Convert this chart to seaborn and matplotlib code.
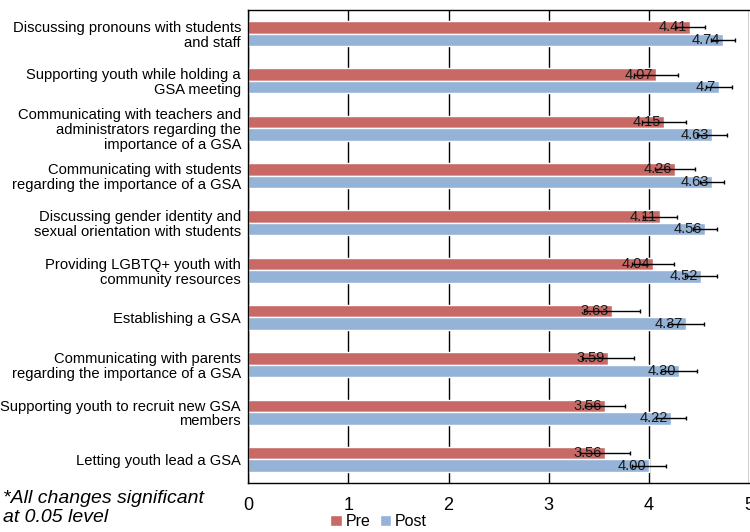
import matplotlib
matplotlib.use("Agg")
import matplotlib.pyplot as plt
import pandas as pd
import seaborn as sns

# 数据：前后测自我效能均值与误差
categories = [
    "Discussing pronouns with students\nand staff",
    "Supporting youth while holding a\nGSA meeting",
    "Communicating with teachers and\nadministrators regarding the\nimportance of a GSA",
    "Communicating with students\nregarding the importance of a GSA",
    "Discussing gender identity and\nsexual orientation with students",
    "Providing LGBTQ+ youth with\ncommunity resources",
    "Establishing a GSA",
    "Communicating with parents\nregarding the importance of a GSA",
    "Supporting youth to recruit new GSA\nmembers",
    "Letting youth lead a GSA",
]
pre = [4.41, 4.07, 4.15, 4.26, 4.11, 4.04, 3.63, 3.59, 3.56, 3.56]
post = [4.74, 4.70, 4.63, 4.63, 4.56, 4.52, 4.37, 4.30, 4.22, 4.00]
pre_err = [0.15, 0.22, 0.22, 0.20, 0.17, 0.21, 0.28, 0.26, 0.20, 0.25]
post_err = [0.12, 0.13, 0.15, 0.12, 0.12, 0.16, 0.18, 0.18, 0.15, 0.17]
pre_labels = ["4.41", "4.07", "4.15", "4.26", "4.11", "4.04", "3.63", "3.59", "3.56", "3.56"]
post_labels = ["4.74", "4.7", "4.63", "4.63", "4.56", "4.52", "4.37", "4.30", "4.22", "4.00"]
x_ticks = [0, 1, 2, 3, 4, 5]

PRE_COLOR = "#C86966"
POST_COLOR = "#95B3D7"

sns.set_style("white")
plt.rcParams["font.family"] = ["Liberation Sans", "DejaVu Sans"]
plt.rcParams["text.color"] = "black"
plt.rcParams["xtick.color"] = "black"
plt.rcParams["ytick.color"] = "black"

df = pd.DataFrame({
    "item": categories * 2,
    "score": pre + post,
    "time": ["Pre"] * len(pre) + ["Post"] * len(post),
})

fig = plt.figure(figsize=(7.5, 5.32), dpi=100)
ax = fig.add_axes([248 / 750, 1 - 483 / 532, 501.25 / 750, 473 / 532])

sns.barplot(
    data=df, x="score", y="item", hue="time", orient="h",
    order=categories, hue_order=["Pre", "Post"],
    palette={"Pre": PRE_COLOR, "Post": POST_COLOR},
    width=0.53, saturation=1, errorbar=None, ax=ax,
)

# 数值标签 + 误差线（位置取自柱子本身）
for cont, errs, labels in zip(ax.containers, [pre_err, post_err], [pre_labels, post_labels]):
    for bar, e, lab in zip(cont.patches, errs, labels):
        w = bar.get_width()
        yc = bar.get_y() + bar.get_height() / 2
        ax.text(w - 0.03, yc, lab, ha="right", va="center", fontsize=10.5,
                color="#1a1a1a", zorder=4)
        ax.errorbar(w, yc, xerr=e, fmt="none", ecolor="black", elinewidth=1,
                    capsize=1.5, capthick=1, zorder=5)

ax.set_xlim(0, 5)
ax.set_ylim(len(categories) - 0.5, -0.5)
ax.set_xticks(x_ticks)
ax.set_xlabel("")
ax.set_ylabel("")
ax.grid(axis="x", color="black", linewidth=1)
ax.grid(axis="y", visible=False)
ax.set_axisbelow(True)
for side in ["left", "top", "bottom"]:
    ax.spines[side].set_color("black")
    ax.spines[side].set_linewidth(1)
ax.spines["right"].set_visible(False)
ax.tick_params(axis="x", length=0, pad=10, labelsize=13)
ax.tick_params(axis="y", length=0, pad=5, labelsize=10.6)
for t in ax.get_yticklabels():
    t.set_linespacing(1.08)

handles, labels = ax.get_legend_handles_labels()
ax.legend_.remove()
fig.legend(handles, labels, loc="lower center", bbox_to_anchor=(0.505, -0.022),
           ncol=2, frameon=False, fontsize=11.5, handlelength=0.7,
           handleheight=0.7, handletextpad=0.25, columnspacing=0.6)

fig.text(0.004, 1 - 508 / 532, "*All changes significant\nat 0.05 level",
         style="italic", fontsize=14, va="center", ha="left", linespacing=1.12)

fig.savefig("out.png", dpi=100)
